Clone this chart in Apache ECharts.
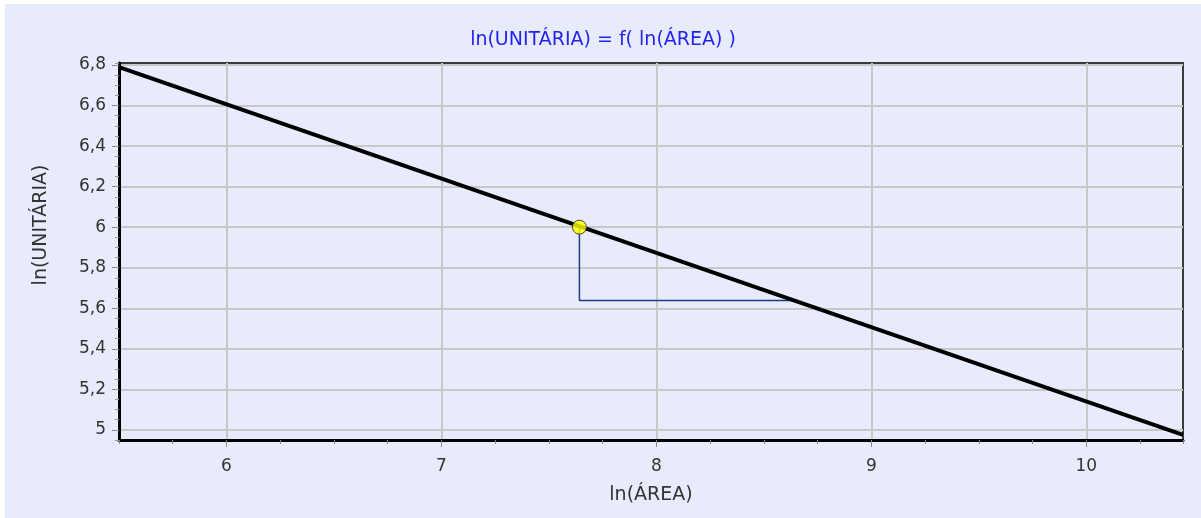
<!DOCTYPE html>
<html>
<head>
<meta charset="utf-8">
<script src="https://cdn.jsdelivr.net/npm/echarts@6/dist/echarts.min.js"></script>
<style>
  html, body { margin: 0; padding: 0; background: #fff; }
  #chart { position: absolute; left: 5px; top: 4px; width: 1196px; height: 514px; }
</style>
</head>
<body>
<div id="chart"></div>
<script>
// reta ajustada ln(UNITÁRIA) x ln(ÁREA)
const lineX = [5.5, 10.45];
const lineY = [6.79, 4.975];
// ponto avaliado
const pointX = [7.642];
const pointY = [6.0];
// triângulo da inclinação
const triX = [7.642, 7.642, 8.637];
const triY = [6.0, 5.638, 5.638];
// rótulos dos eixos
const xTicks = [6, 7, 8, 9, 10];
const yTicks = [5, 5.2, 5.4, 5.6, 5.8, 6, 6.2, 6.4, 6.6, 6.8];

const font = 'DejaVu Sans';
const xRange = { min: 5.5, max: 10.45 };
const yRange = { min: 4.95, max: 6.81 };

function fmt(v) {
  return String(+v.toFixed(2)).replace('.', ',');
}

const chart = echarts.init(document.getElementById('chart'));

const option = {
  backgroundColor: '#E8EBFC',
  animation: false,
  title: {
    text: 'ln(UNITÁRIA) = f( ln(ÁREA) )',
    left: 'center',
    top: 22,
    textStyle: { color: '#2424F0', fontFamily: font, fontSize: 19, fontWeight: 'normal' }
  },
  grid: {
    left: 114,
    top: 59,
    right: 18,
    bottom: 78,
    show: true,
    borderColor: '#3a3a3a',
    borderWidth: 2
  },
  xAxis: [
    {
      type: 'value',
      position: 'bottom',
      min: xRange.min,
      max: xRange.max,
      name: 'ln(ÁREA)',
      nameLocation: 'middle',
      nameGap: 46,
      nameTextStyle: { color: '#333', fontFamily: font, fontSize: 19 },
      axisLine: { show: true, onZero: false, lineStyle: { color: '#000', width: 3 } },
      axisTick: { show: true, customValues: xTicks, length: 7, lineStyle: { color: '#888' } },
      axisLabel: { customValues: xTicks, color: '#333', fontFamily: font, fontSize: 17, margin: 18, formatter: fmt },
      splitLine: { show: true, lineStyle: { color: '#c8c8c8', width: 2 } }
    },
    {
      // marcas secundárias
      type: 'value',
      position: 'bottom',
      min: xRange.min,
      max: xRange.max,
      interval: 0.25,
      axisLine: { show: false, onZero: false },
      axisTick: { show: true, length: 4, lineStyle: { color: '#888' } },
      axisLabel: { show: false },
      splitLine: { show: false }
    }
  ],
  yAxis: [
    {
      type: 'value',
      position: 'left',
      min: yRange.min,
      max: yRange.max,
      axisLine: { show: true, onZero: false, lineStyle: { color: '#000', width: 3 } },
      axisTick: { show: true, customValues: yTicks, length: 7, lineStyle: { color: '#888' } },
      axisLabel: { customValues: yTicks, color: '#333', fontFamily: font, fontSize: 17, margin: 13, formatter: fmt },
      splitLine: { show: true, lineStyle: { color: '#c8c8c8', width: 2 } }
    },
    {
      type: 'value',
      position: 'left',
      min: yRange.min,
      max: yRange.max,
      interval: 0.05,
      axisLine: { show: false, onZero: false },
      axisTick: { show: true, length: 4, lineStyle: { color: '#999' } },
      axisLabel: { show: false },
      splitLine: { show: false }
    }
  ],
  graphic: [
    {
      type: 'text',
      x: 36,
      y: 221,
      rotation: Math.PI / 2,
      style: {
        text: 'ln(UNITÁRIA)',
        fill: '#333',
        font: '19px "DejaVu Sans"',
        align: 'center',
        verticalAlign: 'middle'
      }
    }
  ],
  series: [
    {
      type: 'line',
      data: triX.map((x, i) => [x, triY[i]]),
      symbol: 'none',
      lineStyle: { color: '#1F3F7A', width: 1.5 },
      z: 2
    },
    {
      type: 'line',
      data: lineX.map((x, i) => [x, lineY[i]]),
      symbol: 'none',
      lineStyle: { color: '#000', width: 4 },
      z: 3
    },
    {
      type: 'scatter',
      data: pointX.map((x, i) => [x, pointY[i]]),
      symbol: 'circle',
      symbolSize: 14,
      itemStyle: { color: '#FFFF00', borderColor: '#222', borderWidth: 1 },
      z: 4
    }
  ]
};

chart.setOption(option);
</script>
</body>
</html>
